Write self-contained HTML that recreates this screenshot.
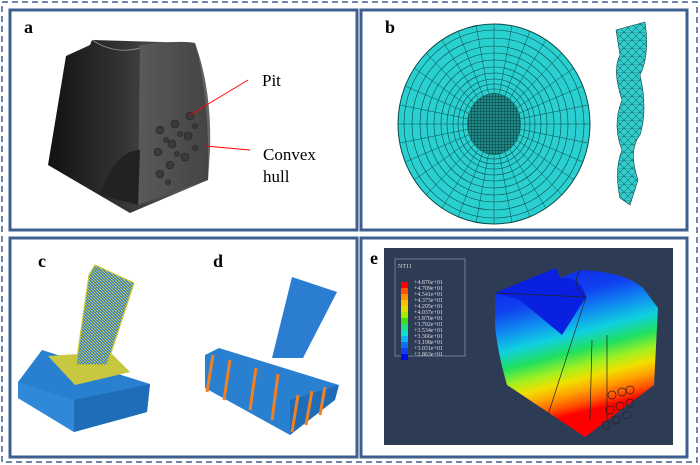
<!DOCTYPE html>
<html><head><meta charset="utf-8"><style>
html,body{margin:0;padding:0;background:#fff}
svg{display:block}
text{font-family:"Liberation Serif",serif}
</style></head><body>
<svg width="700" height="465" viewBox="0 0 700 465" xmlns="http://www.w3.org/2000/svg">
<defs>
<linearGradient id="blk" x1="0" x2="1"><stop offset="0" stop-color="#111"/><stop offset="0.45" stop-color="#333"/><stop offset="1" stop-color="#666"/></linearGradient>
<linearGradient id="blk2" x1="0" x2="1"><stop offset="0" stop-color="#5a5a5a"/><stop offset="1" stop-color="#444"/></linearGradient>
<linearGradient id="cont" x1="0" y1="0" x2="0.25" y2="1">
<stop offset="0" stop-color="#0a20e0"/><stop offset="0.25" stop-color="#1040f0"/><stop offset="0.38" stop-color="#1090f0"/><stop offset="0.48" stop-color="#10d0e0"/><stop offset="0.58" stop-color="#20e060"/><stop offset="0.67" stop-color="#a0f020"/><stop offset="0.74" stop-color="#f0e000"/><stop offset="0.81" stop-color="#ffa000"/><stop offset="0.88" stop-color="#ff5000"/><stop offset="0.93" stop-color="#ff0000"/></linearGradient>
<pattern id="mesh2" width="3" height="3" patternUnits="userSpaceOnUse"><rect width="3" height="3" fill="#1f8a8a"/><path d="M0 0H3M0 0V3" stroke="#062828" stroke-width="0.8"/></pattern>
<pattern id="tri" width="8" height="8" patternUnits="userSpaceOnUse"><rect width="8" height="8" fill="#33cccc"/><path d="M0 0L8 8M0 8L8 0M0 0H8" stroke="#0b5050" stroke-width="0.5"/></pattern>
<pattern id="ym" width="3" height="3" patternUnits="userSpaceOnUse"><rect width="3" height="3" fill="#3a7ec8"/><path d="M0 0L3 3" stroke="#d8d840" stroke-width="0.8"/></pattern>
</defs>
<rect x="2" y="2" width="695" height="460" fill="none" stroke="#3d5f8f" stroke-width="1.5" stroke-dasharray="6,4"/>
<rect x="10" y="10" width="347" height="220" fill="#fff" stroke="#3d5f8f" stroke-width="3"/>
<rect x="361" y="10" width="326" height="220" fill="#fff" stroke="#3d5f8f" stroke-width="3"/>
<rect x="10" y="238" width="347" height="219" fill="#fff" stroke="#3d5f8f" stroke-width="3"/>
<rect x="361" y="238" width="326" height="219" fill="#fff" stroke="#3d5f8f" stroke-width="3"/>
<!-- a -->
<text x="24" y="33" font-size="18" font-weight="bold">a</text>
<path d="M66 56 L90 45 L92 40 L195 43 Q212 90 210 150 L208 180 L130 213 L48 165 Z" fill="url(#blk)"/>
<path d="M140 45 Q180 40 195 43 Q210 100 208 180 L138 205 Z" fill="url(#blk2)"/>
<path d="M92 40 Q115 55 140 48" fill="none" stroke="#888"/>
<path d="M100 195 Q115 150 140 150 L138 205 Z" fill="#222"/>
<g fill="#3a3a3a" stroke="#222" stroke-width="0.6">
<circle cx="190" cy="116" r="4"/><circle cx="175" cy="124" r="4"/><circle cx="160" cy="130" r="4"/>
<circle cx="188" cy="136" r="4"/><circle cx="172" cy="144" r="4"/><circle cx="158" cy="152" r="4"/>
<circle cx="185" cy="157" r="4"/><circle cx="170" cy="165" r="4"/><circle cx="160" cy="174" r="4"/>
<circle cx="195" cy="126" r="2.5"/><circle cx="180" cy="134" r="2.5"/><circle cx="166" cy="140" r="2.5"/><circle cx="195" cy="148" r="2.5"/><circle cx="177" cy="154" r="2.5"/><circle cx="168" cy="182" r="2.5"/>
</g>
<line x1="190" y1="115" x2="248" y2="80" stroke="red"/>
<line x1="205" y1="146" x2="250" y2="150" stroke="red"/>
<text x="262" y="86" font-size="17">Pit</text>
<text x="263" y="160" font-size="17">Convex</text>
<text x="263" y="182" font-size="17">hull</text>
<!-- b -->
<text x="385" y="33" font-size="18" font-weight="bold">b</text>
<ellipse cx="494" cy="124" rx="96" ry="100" fill="#2ad0d0"/>
<g stroke="#0b4a4a" stroke-width="0.6" fill="none">
<ellipse cx="494" cy="124" rx="90" ry="94"/><ellipse cx="494" cy="124" rx="82" ry="86"/><ellipse cx="494" cy="124" rx="74" ry="78"/><ellipse cx="494" cy="124" rx="67" ry="71"/><ellipse cx="494" cy="124" rx="60" ry="64"/><ellipse cx="494" cy="124" rx="53" ry="57"/><ellipse cx="494" cy="124" rx="47" ry="51"/><ellipse cx="494" cy="124" rx="41" ry="45"/><ellipse cx="494" cy="124" rx="36" ry="40"/><ellipse cx="494" cy="124" rx="31" ry="35"/>
<ellipse cx="494" cy="124" rx="96" ry="100" stroke-width="1"/>
</g>
<g stroke="#0b4a4a" stroke-width="0.5">
<line x1="398" y1="124" x2="590" y2="124"/><line x1="494" y1="24" x2="494" y2="224"/>
<line x1="426" y1="53" x2="562" y2="195"/><line x1="562" y1="53" x2="426" y2="195"/>
<line x1="405" y1="86" x2="583" y2="162"/><line x1="405" y1="162" x2="583" y2="86"/>
<line x1="458" y1="31" x2="530" y2="217"/><line x1="530" y1="31" x2="458" y2="217"/>
<line x1="400" y1="105" x2="588" y2="143"/><line x1="400" y1="143" x2="588" y2="105"/>
<line x1="476" y1="25" x2="512" y2="223"/><line x1="512" y1="25" x2="476" y2="223"/>
<line x1="414" y1="68" x2="574" y2="180"/><line x1="414" y1="180" x2="574" y2="68"/>
<line x1="442" y1="40" x2="546" y2="208"/><line x1="546" y1="40" x2="442" y2="208"/>
</g>
<ellipse cx="494" cy="124" rx="27" ry="31" fill="url(#mesh2)"/>
<path d="M616 30 L645 22 Q650 55 640 75 Q648 110 640 135 Q628 150 638 180 L630 205 L620 198 Q614 170 622 150 Q612 125 622 100 Q612 70 620 55 Z" fill="url(#tri)" stroke="#0b4a4a" stroke-width="0.6"/>
<!-- c -->
<text x="38" y="267" font-size="18" font-weight="bold">c</text>
<path d="M18 382 L42 350 L150 384 L147 412 L74 432 L18 398 Z" fill="#2a80d0"/>
<path d="M74 400 L150 384 L147 412 L74 432 Z" fill="#1f6cb8"/>
<path d="M18 382 L74 400 L74 432 L18 398 Z" fill="#2f88d8"/>
<path d="M48 356 L110 352 L130 372 L75 385 Z" fill="#c8c840"/>
<path d="M89 275 L95 265 L134 283 L107 365 L76 365 Z" fill="url(#ym)" stroke="#c8c830" stroke-width="1.2"/>
<!-- d -->
<text x="213" y="267" font-size="18" font-weight="bold">d</text>
<path d="M205 355 L219 348 L339 385 L290 435 L205 388 Z" fill="#2a80d0"/>
<path d="M290 400 L339 385 L335 400 L290 435 Z" fill="#1f6cb8"/>
<path d="M272 358 L292 277 L337 292 L303 358 Z" fill="#2a7dd0"/>
<g stroke="#f08020" stroke-width="3">
<line x1="213" y1="355" x2="207" y2="392"/><line x1="230" y1="360" x2="224" y2="400"/><line x1="256" y1="368" x2="250" y2="410"/><line x1="278" y1="374" x2="272" y2="420"/><line x1="298" y1="395" x2="292" y2="432"/><line x1="312" y1="391" x2="306" y2="425"/><line x1="325" y1="387" x2="320" y2="415"/>
</g>
<!-- e -->
<rect x="384" y="248" width="289" height="197" fill="#2e3b55"/>
<text x="370" y="264" font-size="18" font-weight="bold">e</text>
<rect x="395" y="259" width="70" height="97" fill="none" stroke="#8090a8" stroke-width="0.8"/>
<text x="398" y="268" font-size="6" fill="#ddd" font-family="Liberation Sans">NT11</text>
<g font-size="6" fill="#ddd" font-family="Liberation Sans">
<rect x="401" y="282" width="7" height="6" fill="#ff0000"/><text x="414" y="284">+4.876e+01</text>
<rect x="401" y="288" width="7" height="6" fill="#ff5000"/><text x="414" y="290">+4.709e+01</text>
<rect x="401" y="294" width="7" height="6" fill="#ff9000"/><text x="414" y="296">+4.541e+01</text>
<rect x="401" y="300" width="7" height="6" fill="#ffc000"/><text x="414" y="302">+4.373e+01</text>
<rect x="401" y="306" width="7" height="6" fill="#e0e000"/><text x="414" y="308">+4.205e+01</text>
<rect x="401" y="312" width="7" height="6" fill="#a0f000"/><text x="414" y="314">+4.037e+01</text>
<rect x="401" y="318" width="7" height="6" fill="#40e020"/><text x="414" y="320">+3.870e+01</text>
<rect x="401" y="324" width="7" height="6" fill="#20e080"/><text x="414" y="326">+3.702e+01</text>
<rect x="401" y="330" width="7" height="6" fill="#10e0d0"/><text x="414" y="332">+3.534e+01</text>
<rect x="401" y="336" width="7" height="6" fill="#10b0f0"/><text x="414" y="338">+3.366e+01</text>
<rect x="401" y="342" width="7" height="6" fill="#1070f0"/><text x="414" y="344">+3.198e+01</text>
<rect x="401" y="348" width="7" height="6" fill="#1040f0"/><text x="414" y="350">+3.031e+01</text>
<rect x="401" y="354" width="7" height="6" fill="#0010e0"/><text x="414" y="356">+2.863e+01</text>
</g>
<path d="M495 293 L556 268 L560 278 L580 270 Q625 272 643 288 L658 308 L654 385 L585 437 L507 385 Q497 350 495 325 Z" fill="url(#cont)"/>
<path d="M495 293 L556 268 L560 278 Q580 275 586 297 L562 335 L520 300 Z" fill="#0a20e0"/>
<g fill="none" stroke="#222" stroke-width="0.7">
<path d="M495 293 L586 297 L548 415"/><path d="M580 270 Q570 285 586 297"/>
<line x1="592" y1="340" x2="590" y2="420"/><line x1="607" y1="335" x2="607" y2="420"/>
<circle cx="612" cy="395" r="4"/><circle cx="622" cy="392" r="4"/><circle cx="630" cy="390" r="4"/>
<circle cx="610" cy="410" r="4"/><circle cx="620" cy="406" r="4"/><circle cx="630" cy="403" r="4"/>
<circle cx="606" cy="425" r="4"/><circle cx="616" cy="420" r="4"/><circle cx="627" cy="415" r="4"/>
</g>
</svg>
</body></html>
